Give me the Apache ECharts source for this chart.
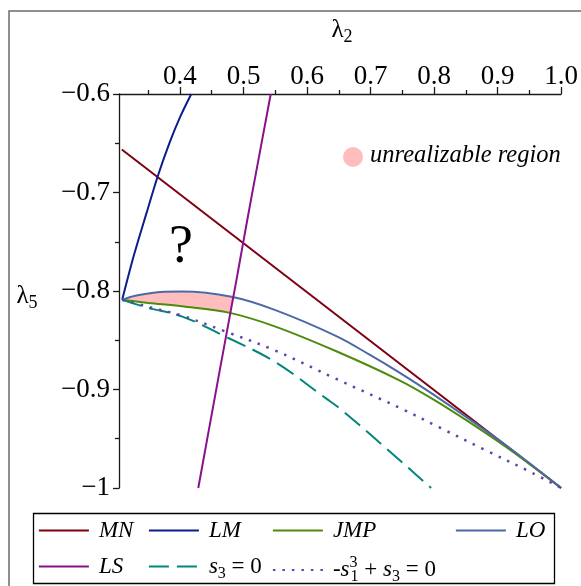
<!DOCTYPE html>
<html><head><meta charset="utf-8">
<script src="https://cdn.jsdelivr.net/npm/echarts@6/dist/echarts.min.js"></script>
<style>html,body{margin:0;padding:0;background:#fff}#c{width:581px;height:586px}</style>
</head><body><div id="c"></div>
<script>
// ---- data ----
const xTickValues = [0.4, 0.5, 0.6, 0.7, 0.8, 0.9, 1.0];
const xMinorTickValues = [0.35, 0.45, 0.55, 0.65, 0.75, 0.85, 0.95];
const yTickValues = [-1, -0.9, -0.8, -0.7, -0.6];

const MN = [[0.3084, -0.6564], [1.0, -1.0]];
const LM = [[0.309, -0.809], [0.327, -0.7648], [0.3474, -0.7207], [0.365, -0.6835],
            [0.3835, -0.6496], [0.4008, -0.6225], [0.4178, -0.600]];
const JMP = [[0.309, -0.809], [0.3503, -0.8121], [0.4027, -0.8155], [0.4785, -0.8222],
             [0.5492, -0.8359], [0.6461, -0.8612], [0.7455, -0.8907], [0.7974, -0.9095],
             [0.8555, -0.9332], [0.9183, -0.9607], [1.0, -1.0]];
const LO = [[0.309, -0.809], [0.3293, -0.8049], [0.3686, -0.8009], [0.4027, -0.8005],
            [0.4812, -0.8059], [0.5492, -0.8192], [0.6461, -0.8458], [0.6984, -0.8646],
            [0.7455, -0.8828], [0.7974, -0.9044], [0.8555, -0.9301], [0.9183, -0.9592], [1.0, -1.0]];
const LS = [[0.5429, -0.600], [0.5118, -0.7072], [0.4994, -0.7511], [0.489, -0.7884],
            [0.4628, -0.8798], [0.4288, -1.0]];
const S3 = [[0.309, -0.809], [0.3503, -0.8172], [0.4027, -0.8257], [0.4707, -0.846],
            [0.5492, -0.8718], [0.6304, -0.9093], [0.654, -0.9205],
            [0.7482, -0.973], [0.7717, -0.9865], [0.7953, -1.0]];
const S1S3 = [[0.309, -0.809], [0.3503, -0.8161], [0.4027, -0.825], [0.4707, -0.8409],
              [0.5492, -0.8602], [0.6461, -0.8893], [0.7507, -0.9201], [0.8084, -0.9385],
              [0.8817, -0.9618], [0.955, -0.9848], [1.0, -1.0]];

const seriesNames = ['MN', 'LM', 'JMP', 'LO', 'LS', 's3 = 0', '-s1^3 + s3 = 0'];
const legendLabels = {
  'MN': '{it|MN}', 'LM': '{it|LM}', 'JMP': '{it|JMP}', 'LO': '{it|LO}', 'LS': '{it|LS}',
  's3 = 0': '{it|s}{sub|3}{n| = 0}',
  '-s1^3 + s3 = 0': '{n|-}{it|s}{sup|3}{sub|1}{n| + }{it|s}{sub|3}{n| = 0}'
};
const xName = '{l|λ}{s|2}';
const yName = '{l|λ}{s|5}';
const regionLabel = 'unrealizable region';

// ---- helpers ----
const F = 'Liberation Serif';
function segInter(a, b, c, d) {
  const r = [b[0]-a[0], b[1]-a[1]], s = [d[0]-c[0], d[1]-c[1]];
  const den = r[0]*s[1] - r[1]*s[0];
  if (Math.abs(den) < 1e-12) return null;
  const t = ((c[0]-a[0])*s[1] - (c[1]-a[1])*s[0]) / den;
  const u = ((c[0]-a[0])*r[1] - (c[1]-a[1])*r[0]) / den;
  if (t >= 0 && t <= 1 && u >= 0 && u <= 1) return {p: [a[0]+t*r[0], a[1]+t*r[1]]};
  return null;
}
function polyInter(P, Q) {
  for (let i = 0; i < P.length-1; i++)
    for (let j = 0; j < Q.length-1; j++) {
      const h = segInter(P[i], P[i+1], Q[j], Q[j+1]);
      if (h) return {p: h.p, i: i};
    }
  return null;
}
const topCut = polyInter(LO, LS);
const botCut = polyInter(JMP, LS);
const regionPts = LO.slice(0, topCut.i+1).concat([topCut.p, botCut.p])
  .concat(JMP.slice(1, botCut.i+1).reverse());

const chart = echarts.init(document.getElementById('c'), null, {renderer: 'canvas'});
const axisColor = '#1a1a1a';
const legendRich = {
  it: {fontFamily: F, fontStyle: 'italic', fontSize: 23, lineHeight: 30, color: '#000'},
  n: {fontFamily: F, fontSize: 23, lineHeight: 30, color: '#000'},
  sub: {fontFamily: F, fontSize: 16, lineHeight: 12, verticalAlign: 'bottom', color: '#000'},
  sup: {fontFamily: F, fontSize: 16, lineHeight: 12, verticalAlign: 'top', width: 1, color: '#000'}
};
function mkLegend(names, left) {
  return {
    show: true, orient: 'vertical', left: left, top: 519, height: 90, padding: 0, itemGap: 13,
    itemWidth: 50, itemHeight: 14, selectedMode: false, data: names,
    itemStyle: {opacity: 0, borderWidth: 0},
    lineStyle: {width: 1.8},
    formatter: n => legendLabels[n],
    textStyle: {padding: [0, 0, 0, 5], fontFamily: F, fontSize: 23, color: '#000', rich: legendRich}
  };
}
function line(name, data, color, extra) {
  return Object.assign({
    type: 'line', name: name, data: data, symbol: 'none', showSymbol: false,
    smooth: 0.35, z: 3, animation: false,
    lineStyle: {color: color, width: 2}, itemStyle: {color: color}
  }, extra || {});
}
const option = {
  animation: false,
  backgroundColor: '#fff',
  textStyle: {fontFamily: F},
  grid: {left: 119, right: 19, top: 94, bottom: 98, containLabel: false},
  xAxis: [{
    type: 'value', position: 'top', min: 0.304, max: 1.0,
    axisLine: {show: true, onZero: false, lineStyle: {color: axisColor, width: 1.3}},
    axisTick: {show: true, inside: false, length: 7, customValues: xTickValues, lineStyle: {color: axisColor, width: 1.3}},
    axisLabel: {show: true, customValues: xTickValues, formatter: v => v.toFixed(1), fontSize: 27, fontFamily: F, color: '#000', margin: 4},
    splitLine: {show: false}
  }, {
    type: 'value', position: 'top', min: 0.304, max: 1.0,
    axisLine: {show: false},
    axisTick: {show: true, inside: false, length: 4, customValues: xMinorTickValues, lineStyle: {color: axisColor, width: 1.3}},
    axisLabel: {show: false}, splitLine: {show: false}
  }],
  yAxis: {
    type: 'value', position: 'left', min: -1, max: -0.6, interval: 0.1,
    axisLine: {show: true, onZero: false, lineStyle: {color: axisColor, width: 1.3}},
    axisTick: {show: true, inside: false, length: 6, lineStyle: {color: axisColor, width: 1.3}},
    minorTick: {show: true, splitNumber: 2, length: 4, lineStyle: {color: axisColor, width: 1.3}},
    axisLabel: {formatter: v => '\u2212' + Number(Math.abs(v).toFixed(2)), fontSize: 27, fontFamily: F, color: '#000', margin: 9},
    splitLine: {show: false}, minorSplitLine: {show: false}
  },
  legend: [
    mkLegend([seriesNames[0], seriesNames[4]], 38),
    mkLegend([seriesNames[1], seriesNames[5]], 148),
    mkLegend([seriesNames[2], seriesNames[6]], 272),
    mkLegend([seriesNames[3]], 455)
  ],
  series: [
    {type: 'custom', name: 'region', silent: true, z: 1, data: [0], renderItem: (params, api) => ({
      type: 'polygon', shape: {points: regionPts.map(p => api.coord(p))}, style: {fill: '#ffbdbd'}
    })},
    line(seriesNames[0], MN, '#7d0012', {smooth: false}),
    line(seriesNames[1], LM, '#0c1d8a', {smooth: 0.3}),
    line(seriesNames[2], JMP, '#4e8b0c'),
    line(seriesNames[3], LO, '#4b69a5'),
    line(seriesNames[4], LS, '#8b108b', {smooth: 0.2}),
    line(seriesNames[5], S3, '#00877a', {lineStyle: {color: '#00877a', width: 2, type: [20, 8]}}),
    line(seriesNames[6], S1S3, '#6343aa', {lineStyle: {color: '#6343aa', width: 2.5, type: [2.5, 7]}})
  ],
  graphic: [
    {type: 'rect', silent: true, z: -1, shape: {x: 9, y: 11, width: 700, height: 700}, style: {fill: 'none', stroke: '#6b6b6b', lineWidth: 1.5}},
    {type: 'rect', silent: true, shape: {x: 33.5, y: 513.5, width: 521, height: 70}, style: {fill: 'none', stroke: '#000', lineWidth: 1.3}},
    {type: 'text', silent: true, x: 181, y: 248, style: {text: '?', fontFamily: F, fontSize: 54, fill: '#000', align: 'center', verticalAlign: 'middle'}},
    {type: 'circle', silent: true, shape: {cx: 353, cy: 157, r: 10}, style: {fill: '#ffbdbd'}},
    {type: 'text', silent: true, x: 370, y: 156, style: {text: regionLabel, fontFamily: F, fontStyle: 'italic', fontSize: 24.5, fill: '#000', align: 'left', verticalAlign: 'middle'}},
    {type: 'text', silent: true, x: 342, y: 30, style: {text: xName, align: 'center', verticalAlign: 'middle',
      rich: {l: {fontFamily: F, fontSize: 25, lineHeight: 32, fill: '#000'}, s: {fontFamily: F, fontSize: 18, lineHeight: 12, verticalAlign: 'bottom', fill: '#000'}}}},
    {type: 'text', silent: true, x: 27, y: 296, style: {text: yName, align: 'center', verticalAlign: 'middle',
      rich: {l: {fontFamily: F, fontSize: 25, lineHeight: 32, fill: '#000'}, s: {fontFamily: F, fontSize: 18, lineHeight: 12, verticalAlign: 'bottom', fill: '#000'}}}}
  ]
};
chart.setOption(option);
</script>
</body></html>
